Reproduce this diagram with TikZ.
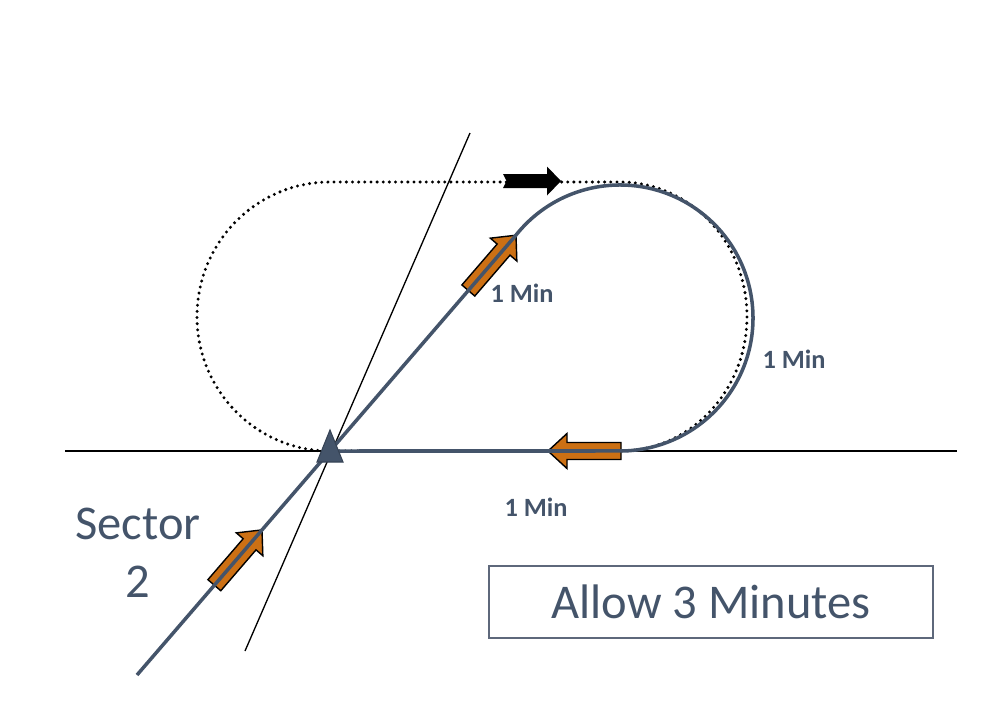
\documentclass[tikz,border=0pt]{standalone}
\usepackage{fontspec}
\setmainfont{Carlito}
\definecolor{slate}{HTML}{44546A}
\definecolor{orng}{RGB}{204,112,20}
\definecolor{boxcol}{HTML}{5E687B}
\tikzset{
  thinline/.style={black, line width=0.75pt},
  track/.style={slate, line width=2pt, line join=round},
  dotpath/.style={black, line width=1.9pt, line cap=round, dash pattern=on 0pt off 3.5pt},
  lbl/.style={text=slate, font=\fontsize{15}{18}\selectfont\bfseries, inner sep=0pt},
  bigtxt/.style={text=slate, font=\fontsize{27.6}{33}\selectfont, inner sep=0pt, align=center},
  orangearrow/.pic={\draw[fill=orng, draw=black, line width=0.8pt, line join=miter]
     (0,0)--(-19,17.5)--(-19,8.5)--(-73,8.5)--(-73,-8.5)--(-19,-8.5)--(-19,-17.5)--cycle;}
}
\begin{document}
\begin{tikzpicture}[x=0.02cm, y=-0.02cm]
\useasboundingbox (0,0) rectangle (1005,711);
% named points
\coordinate (fix) at (330,451);
\coordinate (hL) at (65,451);
\coordinate (hR) at (957,451);
\coordinate (rT) at (470,133);
\coordinate (rB) at (245,651);
\coordinate (inStart) at (137,675);
\coordinate (turn) at (515.2,236.1);
\coordinate (dTopR) at (620,182);
% thin reference lines
\draw[thinline] (hL) -- (hR);
\draw[thinline] (rT) -- (rB);
% dotted racetrack
\draw[dotpath] (fix) arc[start angle=90, end angle=270, x radius=133, y radius=134.5]
   -- (dTopR) arc[start angle=-90, end angle=90, x radius=127, y radius=134.5] -- (fix);
% black direction arrow
\fill[black] (503,174) -- (547,174) -- (547,166.5) -- (561,181) -- (547,195.5)
   -- (547,188) -- (503,188) -- (506.5,181) -- cycle;
% orange arrows
\pic[rotate=49.24] at (516,235.2) {orangearrow};
\pic[rotate=49.24] at (262,529.9) {orangearrow};
\pic[rotate=180] at (548,451) {orangearrow};
% flown track
\draw[track] (inStart) -- (turn) arc[start angle=-142, end angle=90, radius=133] -- (fix);
% fix
\filldraw[fill=slate, draw=slate!80!black, line width=0.6pt] (330,430) -- (343,462) -- (317,462) -- cycle;
% labels
\node[lbl] (m1) at (522,293) {1 Min};
\node[lbl] (m2) at (794,359) {1 Min};
\node[lbl] (m3) at (536,507) {1 Min};
\node[bigtxt] (sector) at (138,553) {Sector\\2};
\node[draw=boxcol, line width=0.9pt, minimum width=8.88cm, minimum height=1.44cm,
      text=slate, font=\fontsize{27.6}{33}\selectfont] (allow) at (711,602) {Allow 3 Minutes};
\end{tikzpicture}
\end{document}
